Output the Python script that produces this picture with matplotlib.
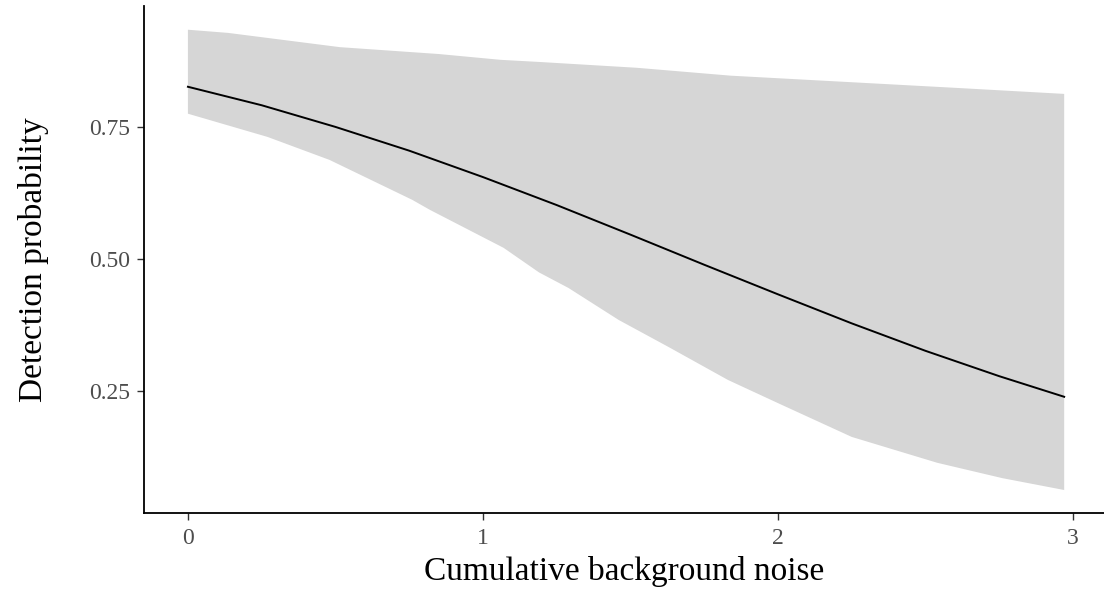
import numpy as np
import matplotlib
matplotlib.use("Agg")
from matplotlib import pyplot as plt

plt.rcParams['font.family'] = ['Liberation Serif', 'DejaVu Serif']

# fitted detection probability along the noise gradient
noise = [0, 0.25, 0.5, 0.75, 1.0, 1.25, 1.5, 1.75, 2.0, 2.25, 2.5, 2.75, 2.97]
p_det = [0.826, 0.791, 0.750, 0.705, 0.655, 0.602, 0.546, 0.489, 0.433, 0.378, 0.326, 0.278, 0.239]

# credible band, upper and lower edges
upper_x = [0, 0.136, 0.515, 0.85, 1.06, 1.19, 1.52, 1.84, 2.17, 2.6, 2.97]
upper_y = [0.934, 0.928, 0.901, 0.888, 0.877, 0.873, 0.862, 0.847, 0.837, 0.824, 0.8125]
lower_x = [0, 0.27, 0.48, 0.76, 0.82, 1.07, 1.19, 1.29, 1.46, 1.63, 1.83, 2.0, 2.25, 2.54, 2.76, 2.97]
lower_y = [0.775, 0.731, 0.6875, 0.612, 0.593, 0.521, 0.4745, 0.445, 0.3845, 0.333, 0.271,
           0.227, 0.163, 0.114, 0.085, 0.0625]

xticks = [0, 1, 2, 3]
yticks = [0.25, 0.50, 0.75]
ytick_labels = ['0.25', '0.50', '0.75']

fig = plt.figure(figsize=(11.04, 5.96), dpi=100)
ax = fig.add_axes([0.1304, 0.1393, 0.8696, 0.8507])

band_x = np.concatenate([upper_x, lower_x[::-1]])
band_y = np.concatenate([upper_y, lower_y[::-1]])
ax.fill(band_x, band_y, color='#d6d6d6', lw=0)
ax.plot(noise, p_det, color='black', lw=1.4)

ax.set_xlim(-0.149, 3.105)
ax.set_ylim(0.019, 0.979)
ax.set_xticks(xticks)
ax.set_yticks(yticks)
ax.set_yticklabels(ytick_labels)

for side in ['top', 'right']:
    ax.spines[side].set_visible(False)
for side in ['left', 'bottom']:
    ax.spines[side].set_linewidth(1.3)
    ax.spines[side].set_color('black')

ax.tick_params(axis='both', length=5, width=1.0, color='#333333',
               labelcolor='#4d4d4d', labelsize=17)
ax.tick_params(axis='x', pad=6)
ax.tick_params(axis='y', pad=5)

ax.set_xlabel('Cumulative background noise', fontsize=24, color='black', labelpad=5)
ax.set_ylabel('Detection probability', fontsize=24, color='black', labelpad=29)

fig.savefig('out.png', dpi=100)
